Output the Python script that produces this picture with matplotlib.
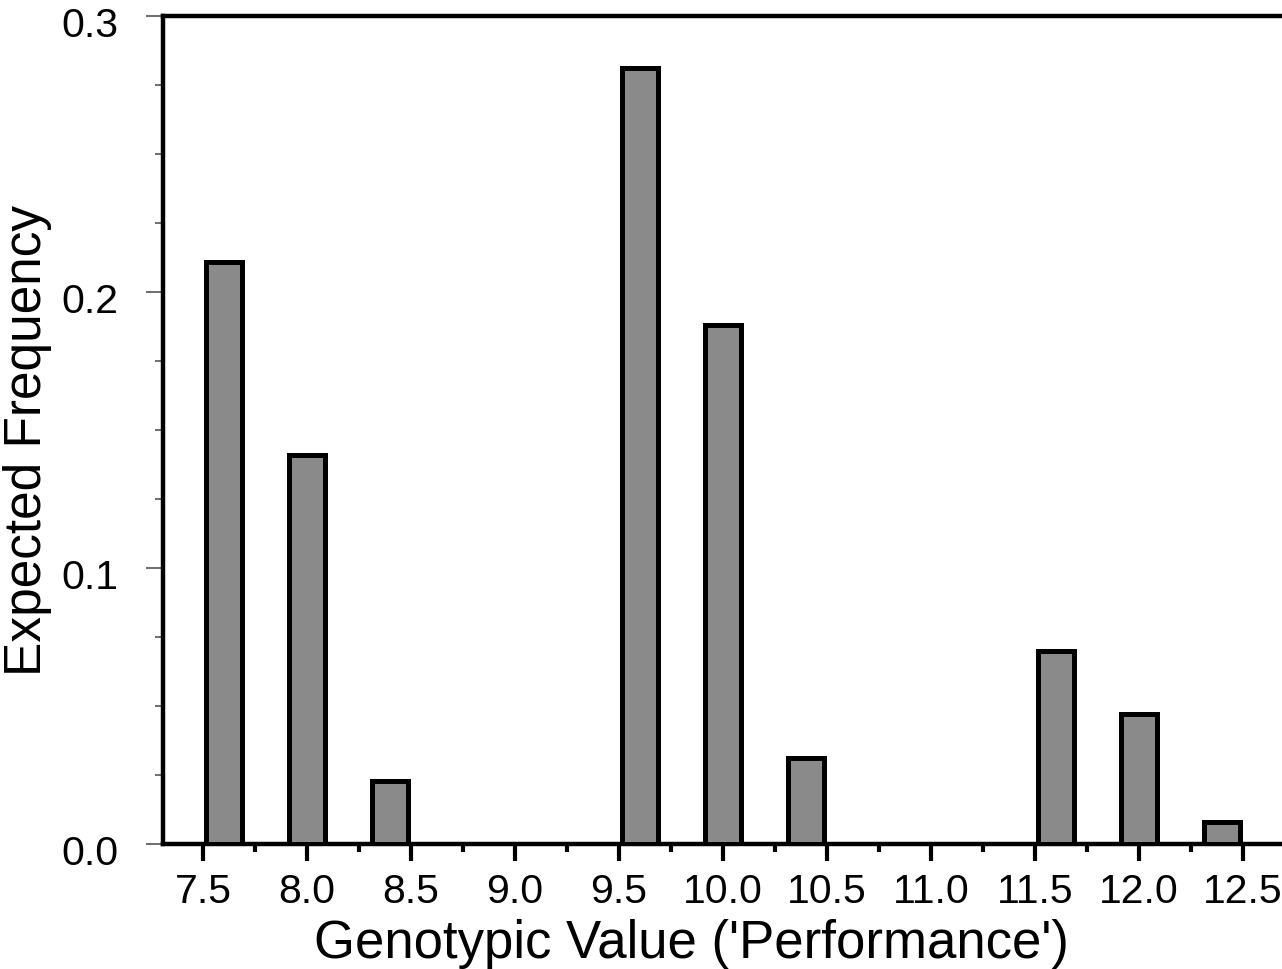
import numpy as np
import matplotlib
matplotlib.use("Agg")
import matplotlib.pyplot as plt
import matplotlib.transforms as mtransforms
from matplotlib.ticker import MultipleLocator, FormatStrFormatter

plt.rcParams['font.family'] = ['Liberation Sans', 'DejaVu Sans']

# genotypic values and expected frequencies
genotype_values = [7.6, 8.0, 8.4, 9.6, 10.0, 10.4, 11.6, 12.0, 12.4]
expected_freq = [0.211, 0.141, 0.023, 0.281, 0.188, 0.031, 0.070, 0.047, 0.008]

fig = plt.figure(figsize=(12.82, 9.70), dpi=100)
ax = fig.add_axes([163 / 1282, 1 - 845 / 970, 1 - 163 / 1282, (845 - 17) / 970])

ax.bar(genotype_values, expected_freq, width=0.172, color='#8a8a8a',
       edgecolor='black', linewidth=3.6, zorder=3)

ax.set_xlim(7.5 - 40 / 208, 7.5 + (1282 - 203) / 208)
ax.set_ylim(0, 0.3)

ax.xaxis.set_major_locator(MultipleLocator(0.5))
ax.xaxis.set_minor_locator(MultipleLocator(0.25))
ax.xaxis.set_major_formatter(FormatStrFormatter('%.1f'))
ax.yaxis.set_major_locator(MultipleLocator(0.1))
ax.yaxis.set_minor_locator(MultipleLocator(0.025))
ax.yaxis.set_major_formatter(FormatStrFormatter('%.1f'))

ax.tick_params(axis='x', which='major', direction='out', length=12, width=3,
               color='black', labelsize=29.5, pad=8)
ax.tick_params(axis='x', which='minor', direction='out', length=6, width=3,
               color='black')
ax.tick_params(axis='y', which='major', direction='out', length=12, width=1.2,
               color='#555555', labelsize=29.5, pad=20)
ax.tick_params(axis='y', which='minor', direction='out', length=6, width=1.2,
               color='#555555')

# y tick labels sit a little below their ticks in the original
shift = mtransforms.ScaledTranslation(0, -5 / 100, fig.dpi_scale_trans)
for lab in ax.get_yticklabels():
    lab.set_transform(lab.get_transform() + shift)

for side in ['left', 'bottom', 'top']:
    ax.spines[side].set_linewidth(3.2)
ax.spines['right'].set_visible(False)

ax.set_xlabel("Genotypic Value ('Performance')", fontsize=38, labelpad=5)
ax.xaxis.set_label_coords(0.472, -0.089)
ax.set_ylabel("Expected Frequency", fontsize=37, labelpad=2)
ax.yaxis.set_label_coords(-0.099, 0.488)

fig.savefig('out.png', dpi=100)
